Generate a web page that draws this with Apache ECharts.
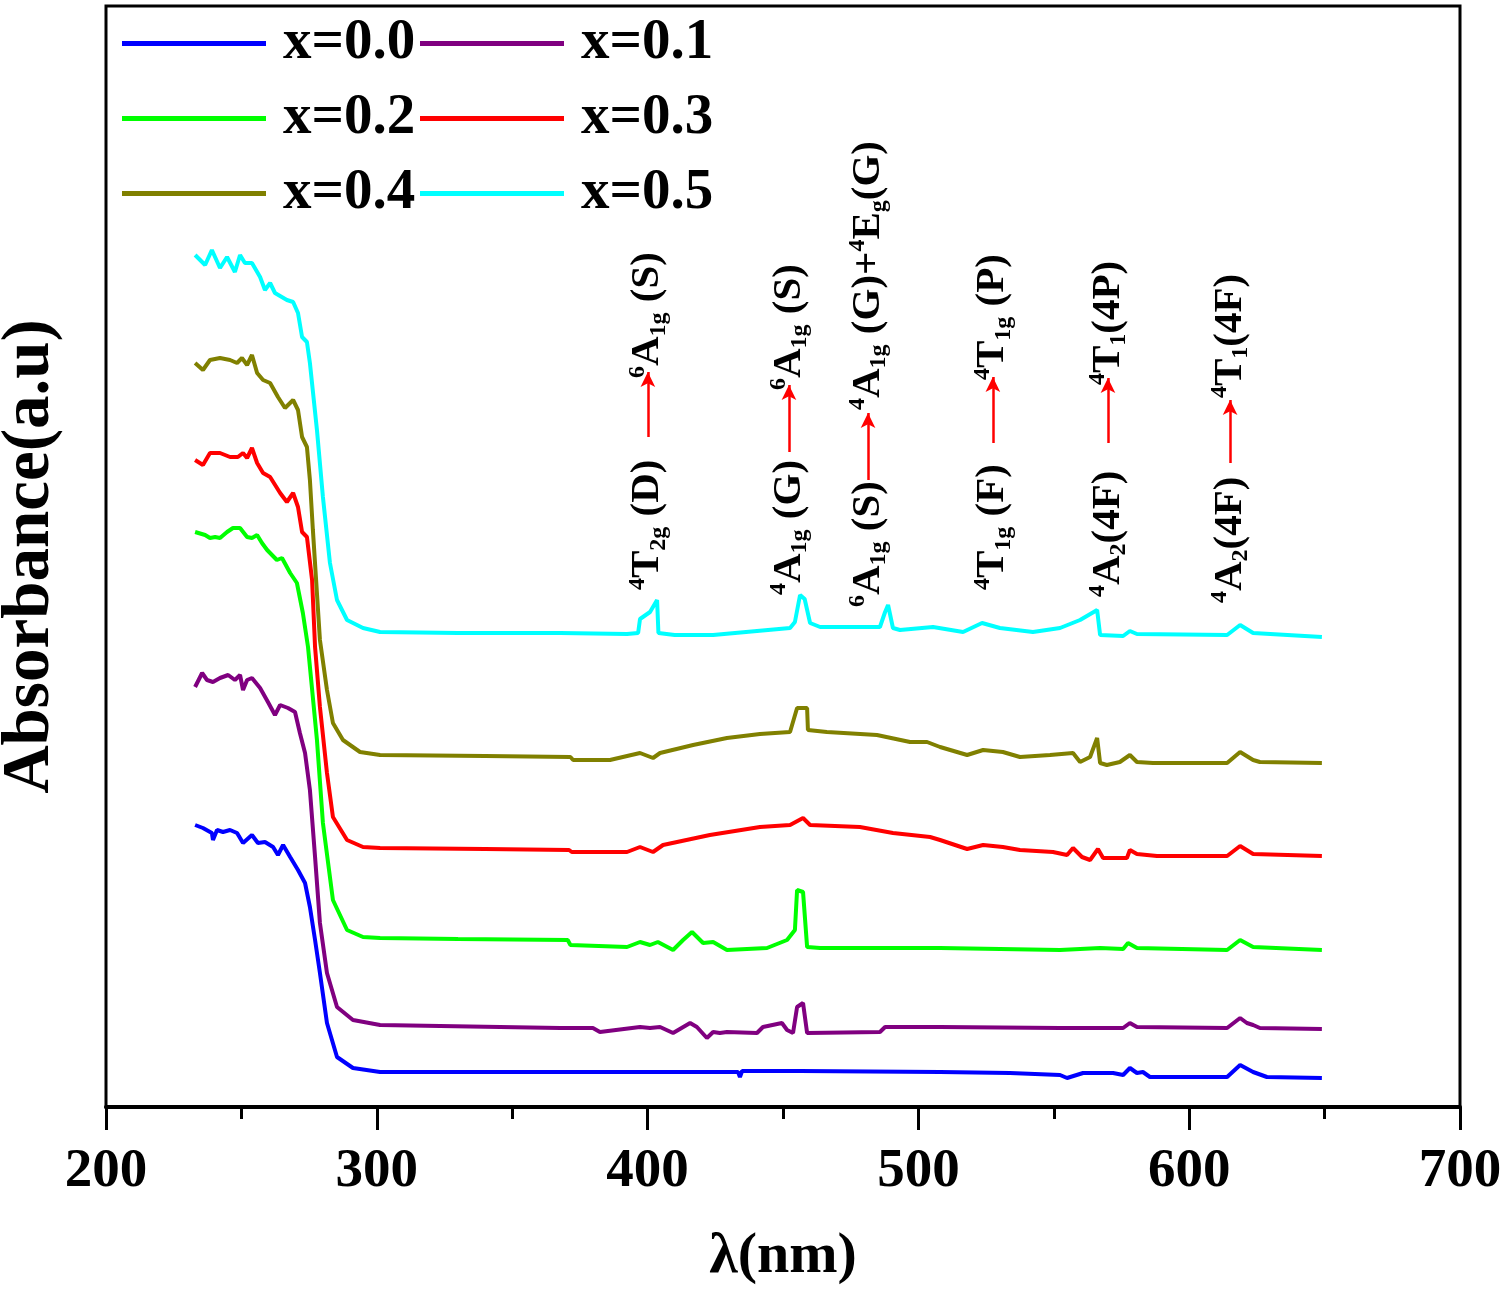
<!DOCTYPE html>
<html><head><meta charset="utf-8">
<script src="https://cdn.jsdelivr.net/npm/echarts@6/dist/echarts.min.js"></script>
<style>html,body{margin:0;padding:0;background:#fff}#c{width:1508px;height:1293px}</style>
</head><body><div id="c"></div>
<script>
const FONT = '"Liberation Serif", "Times New Roman", serif';

const seriesNames = ['x=0.0', 'x=0.1', 'x=0.2', 'x=0.3', 'x=0.4', 'x=0.5'];
const seriesColors = ['#0000ff', '#800080', '#00ff00', '#ff0000', '#808000', '#00ffff'];

// wavelength (nm), absorbance (a.u., stacked offsets)
const x00 = [[232.9,282],[235.8,279],[239.1,274],[239.5,267],[241.0,277],[243.2,275],[245.8,277],[248.4,274],[250.6,264],[253.9,272],[256.1,264],[258.7,265],[261.7,260],[263.5,252],[265.4,262],[268.0,250],[270.9,237],[273.5,224],[275.3,200],[277.2,167],[279.0,134],[281.6,84],[285.3,50],[291.2,39],[301.2,35],[367.7,35],[433.4,35],[434.1,30],[434.9,36],[456.3,36],[508.0,35],[533.8,34],[552.3,32],[554.9,29],[560.8,34],[571.9,34],[575.6,32],[578.1,39],[580.7,34],[582.9,35],[585.5,30],[614.0,30],[618.8,42],[623.6,35],[628.7,30],[649.0,29]];
const x01 = [[232.9,420],[235.5,434],[237.3,427],[239.5,425],[242.1,429],[245.1,432],[247.6,427],[249.5,432],[250.6,417],[252.1,427],[253.9,429],[256.9,419],[259.8,405],[262.4,392],[264.3,402],[267.2,399],[269.8,395],[271.6,374],[273.5,354],[275.3,317],[277.2,250],[279.0,184],[281.6,134],[285.3,100],[291.2,87],[301.2,82],[367.7,79],[379.8,79],[382.4,75],[397.2,80],[400.9,79],[404.6,80],[409.4,74],[415.7,84],[418.2,80],[421.9,69],[424.2,75],[426.7,74],[429.3,75],[440.4,74],[442.6,80],[449.6,84],[451.5,77],[453.7,74],[455.2,100],[457.4,104],[458.9,74],[485.8,75],[487.7,80],[508.0,80],[552.3,79],[575.6,79],[578.1,84],[580.7,80],[614.0,79],[618.8,89],[621.3,84],[623.6,82],[626.1,79],[649.0,78]];
const x02 = [[232.9,575],[236.6,572],[238.4,569],[240.3,570],[242.1,569],[244.7,575],[246.9,579],[249.5,579],[252.1,570],[253.9,569],[255.8,572],[257.6,564],[259.5,557],[263.1,547],[265.0,549],[268.0,534],[270.5,524],[272.7,494],[274.6,460],[277.9,367],[280.1,284],[283.8,207],[289.0,177],[294.9,170],[301.2,169],[330.0,168],[370.5,167],[371.5,162],[392.4,160],[397.2,165],[400.9,162],[403.8,165],[409.4,157],[413.1,167],[416.4,175],[420.5,164],[424.2,165],[429.3,157],[444.1,159],[451.5,167],[454.4,177],[455.2,217],[457.4,215],[458.9,160],[463.7,159],[508.0,159],[552.3,157],[567.1,159],[575.6,158],[577.4,164],[580.7,159],[614.0,157],[618.8,167],[623.6,160],[649.0,157]];
const x03 = [[232.9,647],[235.8,642],[238.4,654],[242.1,654],[245.8,650],[248.7,650],[250.6,654],[252.1,649],[253.9,659],[255.8,644],[258.0,634],[260.6,630],[264.3,614],[266.8,605],[269.1,614],[270.9,600],[272.4,575],[274.2,570],[276.1,527],[277.2,460],[279.0,400],[281.6,334],[283.8,290],[289.0,267],[294.9,260],[301.2,259],[340.0,258],[371.0,257],[372.0,255],[392.4,255],[397.2,260],[402.0,255],[405.7,262],[423.0,272],[441.5,280],[452.6,282],[457.4,289],[460.0,282],[478.4,280],[490.6,274],[504.3,270],[508.0,267],[518.0,258],[523.9,262],[531.2,260],[537.5,257],[549.7,255],[554.9,252],[557.1,259],[560.4,250],[563.4,247],[566.3,258],[568.2,249],[577.0,249],[578.1,257],[580.7,253],[588.1,251],[614.0,251],[618.8,261],[623.6,253],[649.0,251]];
const x04 = [[232.9,744],[235.8,737],[238.4,747],[242.1,749],[245.8,747],[248.4,744],[250.2,749],[252.1,742],[253.9,752],[255.8,734],[258.0,727],[260.6,724],[263.5,710],[266.1,699],[269.1,707],[270.9,697],[272.4,670],[274.2,660],[275.3,627],[276.4,577],[279.0,467],[281.6,417],[283.8,384],[287.5,367],[293.8,355],[301.2,352],[340.0,351],[371.5,350],[372.5,347],[386.1,347],[397.2,354],[402.0,349],[404.6,354],[416.8,362],[429.3,369],[441.5,373],[452.6,375],[455.2,399],[458.9,399],[459.2,377],[466.2,375],[484.7,372],[496.9,365],[503.2,365],[508.0,360],[518.0,352],[523.9,357],[531.2,355],[537.5,350],[548.6,352],[557.1,354],[559.7,345],[563.4,350],[566.0,369],[567.1,344],[569.6,342],[574.4,345],[578.1,352],[580.7,345],[586.6,344],[614.0,344],[618.8,355],[623.6,347],[626.1,345],[649.0,344]];
const x05 = [[232.9,852],[236.6,842],[239.1,857],[242.1,839],[244.7,850],[247.6,835],[249.5,852],[251.3,844],[253.9,844],[256.9,830],[258.7,817],[260.6,824],[262.4,814],[266.8,807],[269.1,805],[270.9,794],[272.4,770],[274.2,765],[275.3,744],[277.9,677],[280.1,610],[282.7,544],[285.3,507],[289.0,487],[294.9,479],[301.2,475],[330.0,474],[367.7,474],[392.4,473],[396.5,474],[397.2,488],[400.9,495],[403.5,507],[404.0,474],[410.0,472],[424.2,472],[440.4,476],[452.6,479],[454.4,485],[456.3,512],[458.0,508],[460.0,484],[463.7,480],[485.8,480],[487.7,495],[488.8,502],[490.6,479],[493.2,477],[505.4,480],[516.5,475],[523.5,484],[530.1,479],[542.3,475],[552.3,479],[559.7,487],[566.0,497],[567.1,472],[575.6,471],[578.1,476],[580.7,473],[614.0,472],[618.8,482],[623.6,474],[649.0,470]];
const seriesData = [x00, x01, x02, x03, x04, x05];

const xTicks = [200, 300, 400, 500, 600, 700];

// transition annotations
const annoX = [400.1, 452.2, 481.4, 527.5, 570.0, 615.1];
const annoLower = [
  '{sup|4}{m|T}{sub|2g}{m| (D)}',
  '{sup|4}{m|A}{sub|1g}{m| (G)}',
  '{sup|6}{m|A}{sub|1g}{m| (S)}',
  '{sup|4}{m|T}{sub|1g}{m| (F)}',
  '{sup|4}{m|A}{sub|2}{m|(4F)}',
  '{sup|4}{m|A}{sub|2}{m|(4F)}'
];
const annoUpper = [
  '{sup|6}{m|A}{sub|1g}{m| (S)}',
  '{sup|6}{m|A}{sub|1g}{m| (S)}',
  '{sup|4}{m|A}{sub|1g}{m| (G)+}{sup|4}{m|E}{sub|g}{m|(G)}',
  '{sup|4}{m|T}{sub|1g}{m| (P)}',
  '{sup|4}{m|T}{sub|1}{m|(4P)}',
  '{sup|4}{m|T}{sub|1}{m|(4F)}'
];
const annoLowerStart = [517, 512, 500, 517, 510, 504];
const arrowTail = [670, 655, 627, 664, 664, 644];
const arrowHead = [735, 722, 694, 730, 729, 707];
const annoUpperStart = [729, 717, 697, 727, 722, 709];

const chart = echarts.init(document.getElementById('c'));

const series = seriesNames.map((n, i) => ({
  name: n,
  type: 'line',
  data: seriesData[i],
  showSymbol: false,
  symbol: 'none',
  smooth: false,
  color: seriesColors[i],
  lineStyle: { width: 4, color: seriesColors[i] },
  animation: false,
  silent: true,
  z: 2 + i
}));

series.push({
  name: 'arrows',
  type: 'line',
  data: [],
  silent: true,
  animation: false,
  markLine: {
    silent: true,
    animation: false,
    symbol: ['none', 'arrow'],
    symbolSize: [11, 15],
    lineStyle: { color: '#ff0000', width: 2.5, type: 'solid' },
    label: { show: false },
    emphasis: { disabled: true },
    data: annoX.map((x, i) => [{ coord: [x, arrowTail[i]] }, { coord: [x, arrowHead[i]] }])
  }
});

chart.setOption({
  backgroundColor: '#ffffff',
  animation: false,
  grid: {
    left: 106, right: 48, top: 6, bottom: 186,
    show: true, borderColor: '#000', borderWidth: 3,
    outerBoundsMode: 'none', containLabel: false
  },
  legend: {
    data: seriesNames,
    left: 122, top: 6, width: 620,
    padding: 0, itemGap: 0,
    itemWidth: 144, itemHeight: 5,
    icon: 'rect',
    selectedMode: false,
    textStyle: {
      fontFamily: FONT, fontWeight: 'bold', fontSize: 57, color: '#000',
      lineHeight: 75, width: 137, padding: [0, 0, 0, 12]
    }
  },
  xAxis: {
    type: 'value', min: 200, max: 700, interval: 100,
    name: 'λ(nm)', nameLocation: 'middle', nameGap: 121,
    nameTextStyle: { fontFamily: FONT, fontWeight: 'bold', fontSize: 58, color: '#000' },
    axisLine: { show: true, onZero: false, lineStyle: { color: '#000', width: 4 } },
    axisTick: { show: true, inside: false, length: 23, lineStyle: { color: '#000', width: 3 } },
    minorTick: { show: true, splitNumber: 2, length: 12, lineStyle: { color: '#000', width: 3 } },
    axisLabel: {
      show: true, margin: 37, fontFamily: FONT, fontWeight: 'bold', fontSize: 55, color: '#000',
      customValues: xTicks
    },
    splitLine: { show: false }
  },
  yAxis: {
    type: 'value', min: 0, max: 1101,
    name: 'Absorbance(a.u)', nameLocation: 'middle', nameGap: 42, nameRotate: 90,
    nameTextStyle: { fontFamily: FONT, fontWeight: 'bold', fontSize: 67, color: '#000' },
    axisLine: { show: false }, axisTick: { show: false }, axisLabel: { show: false },
    splitLine: { show: false }
  },
  series: series
});

const rich = {
  m: { fontFamily: FONT, fontWeight: 'bold', fontSize: 41, color: '#000' },
  sup: { fontFamily: FONT, fontWeight: 'bold', fontSize: 24, color: '#000', padding: [0, 0, 20, 0] },
  sub: { fontFamily: FONT, fontWeight: 'bold', fontSize: 24, color: '#000', padding: [22, 0, 0, 0] }
};

const graphics = [];
annoX.forEach((x, i) => {
  const pLow = chart.convertToPixel({ gridIndex: 0 }, [x, annoLowerStart[i]]);
  const pUp = chart.convertToPixel({ gridIndex: 0 }, [x, annoUpperStart[i]]);
  [[pLow, annoLower[i]], [pUp, annoUpper[i]]].forEach(([p, t]) => {
    graphics.push({
      type: 'text', x: p[0], y: p[1], rotation: Math.PI / 2, silent: true, z: 20,
      style: {
        text: t, rich: rich, align: 'left', verticalAlign: 'middle',
        fontFamily: FONT, fontWeight: 'bold', fontSize: 41, fill: '#000'
      }
    });
  });
});
chart.setOption({ graphic: graphics });
</script>
</body></html>
